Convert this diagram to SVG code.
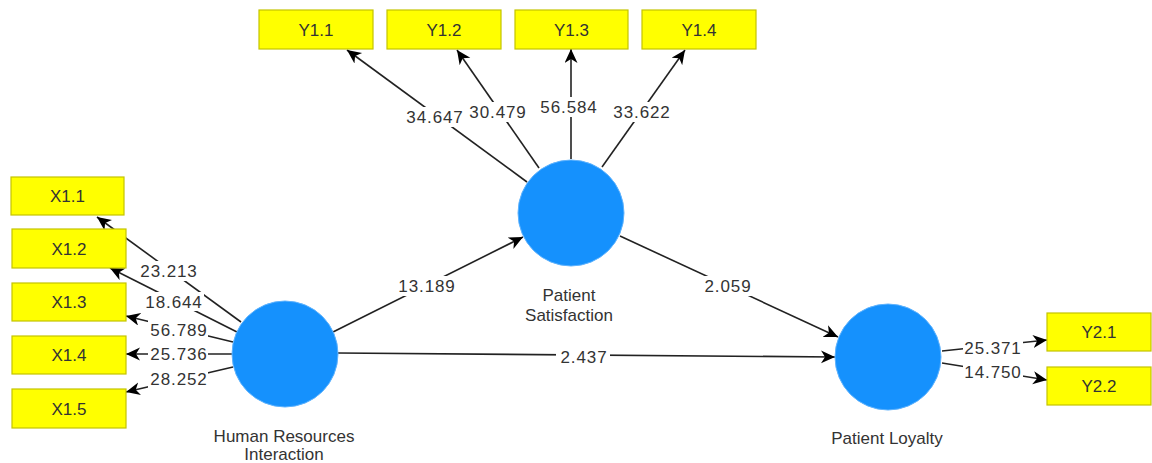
<svg xmlns="http://www.w3.org/2000/svg" width="1152" height="463" viewBox="0 0 1152 463">
<style>
.box{fill:#ffff00;stroke:#c4c400;stroke-width:1.2}
.lv{fill:#1591fd;stroke:#5fb3fe;stroke-width:1}
.t{font-family:"Liberation Sans",Arial,sans-serif;font-size:17px;fill:#333;text-anchor:middle}
.n{font-family:"Liberation Sans",Arial,sans-serif;font-size:17px;fill:#333;text-anchor:middle;letter-spacing:0.9px}
.c{stroke:#222;stroke-width:1.6;fill:none;marker-end:url(#ah)}
.bg{fill:#fff}
</style>
<defs>
<marker id="ah" markerUnits="userSpaceOnUse" markerWidth="16" markerHeight="14" refX="14" refY="6.5" orient="auto">
<path d="M0,0 L14,6.5 L0,13 L4,6.5 z" fill="#000"/>
</marker>
</defs>
<rect width="1152" height="463" fill="#fff"/>
<g id="connectors">
<line class="c" x1="241" y1="322" x2="97" y2="217"/>
<line class="c" x1="237" y1="332" x2="110" y2="268"/>
<line class="c" x1="233" y1="342" x2="126" y2="316"/>
<line class="c" x1="232" y1="354" x2="126" y2="354"/>
<line class="c" x1="233" y1="367" x2="126" y2="392"/>
<line class="c" x1="527" y1="182" x2="347" y2="50"/>
<line class="c" x1="539" y1="168" x2="457" y2="50"/>
<line class="c" x1="571" y1="159" x2="571" y2="49"/>
<line class="c" x1="602" y1="167" x2="685" y2="50"/>
<line class="c" x1="333" y1="332" x2="523" y2="237"/>
<line class="c" x1="620" y1="236" x2="838" y2="337"/>
<line class="c" x1="338" y1="353" x2="835" y2="357"/>
<line class="c" x1="942" y1="351" x2="1047" y2="340"/>
<line class="c" x1="942" y1="363" x2="1047" y2="380"/>
<g id="labels">
<rect class="bg" x="139" y="261" width="60" height="20"/><text class="n" x="169" y="277">23.213</text>
<rect class="bg" x="144" y="292" width="60" height="19"/><text class="n" x="174" y="308">18.644</text>
<rect class="bg" x="148" y="320" width="60" height="19"/><text class="n" x="179" y="336">56.789</text>
<rect class="bg" x="148" y="344" width="60" height="20"/><text class="n" x="179" y="360">25.736</text>
<rect class="bg" x="148" y="369" width="60" height="20"/><text class="n" x="179" y="385">28.252</text>
<rect class="bg" x="404" y="107" width="60" height="20"/><text class="n" x="435" y="123">34.647</text>
<rect class="bg" x="467" y="102" width="60" height="20"/><text class="n" x="498" y="118">30.479</text>
<rect class="bg" x="538" y="97" width="60" height="20"/><text class="n" x="569" y="113">56.584</text>
<rect class="bg" x="611" y="102" width="60" height="20"/><text class="n" x="642" y="118">33.622</text>
<rect class="bg" x="396" y="276" width="60" height="20"/><text class="n" x="427" y="292">13.189</text>
<rect class="bg" x="702" y="276" width="52" height="20"/><text class="n" x="728" y="292">2.059</text>
<rect class="bg" x="556" y="347" width="54" height="20"/><text class="n" x="584" y="363">2.437</text>
<rect class="bg" x="963" y="338" width="60" height="20"/><text class="n" x="993" y="354">25.371</text>
<rect class="bg" x="963" y="362" width="60" height="20"/><text class="n" x="993" y="378">14.750</text>
</g>
</g>
<g id="X1.1"><rect class="box" x="11" y="177" width="113" height="38"/><text class="t" x="67.5" y="202">X1.1</text></g>
<g id="X1.2"><rect class="box" x="12" y="229" width="114" height="39"/><text class="t" x="69" y="254.5">X1.2</text></g>
<g id="X1.3"><rect class="box" x="12" y="283" width="114" height="38"/><text class="t" x="69" y="308">X1.3</text></g>
<g id="X1.4"><rect class="box" x="12" y="336" width="114" height="38"/><text class="t" x="69" y="361">X1.4</text></g>
<g id="X1.5"><rect class="box" x="12" y="389" width="114" height="39"/><text class="t" x="69" y="414.5">X1.5</text></g>
<g id="Y1.1"><rect class="box" x="259" y="10" width="114" height="39"/><text class="t" x="316" y="35.5">Y1.1</text></g>
<g id="Y1.2"><rect class="box" x="387" y="10" width="114" height="39"/><text class="t" x="444" y="35.5">Y1.2</text></g>
<g id="Y1.3"><rect class="box" x="515" y="10" width="113" height="39"/><text class="t" x="571.5" y="35.5">Y1.3</text></g>
<g id="Y1.4"><rect class="box" x="642" y="10" width="114" height="39"/><text class="t" x="699" y="35.5">Y1.4</text></g>
<g id="Y2.1"><rect class="box" x="1047" y="313" width="104" height="38"/><text class="t" x="1099" y="338">Y2.1</text></g>
<g id="Y2.2"><rect class="box" x="1047" y="367" width="104" height="38"/><text class="t" x="1099" y="392">Y2.2</text></g>
<g id="HRI"><circle class="lv" cx="285" cy="354" r="53"/><text class="t" x="284" y="442">Human Resources</text><text class="t" x="284" y="460">Interaction</text></g>
<g id="PS"><circle class="lv" cx="571" cy="213" r="53"/><text class="t" x="569" y="301">Patient</text><text class="t" x="569" y="321">Satisfaction</text></g>
<g id="PL"><circle class="lv" cx="888" cy="357" r="53"/><text class="t" x="887" y="444">Patient Loyalty</text></g>
</svg>
